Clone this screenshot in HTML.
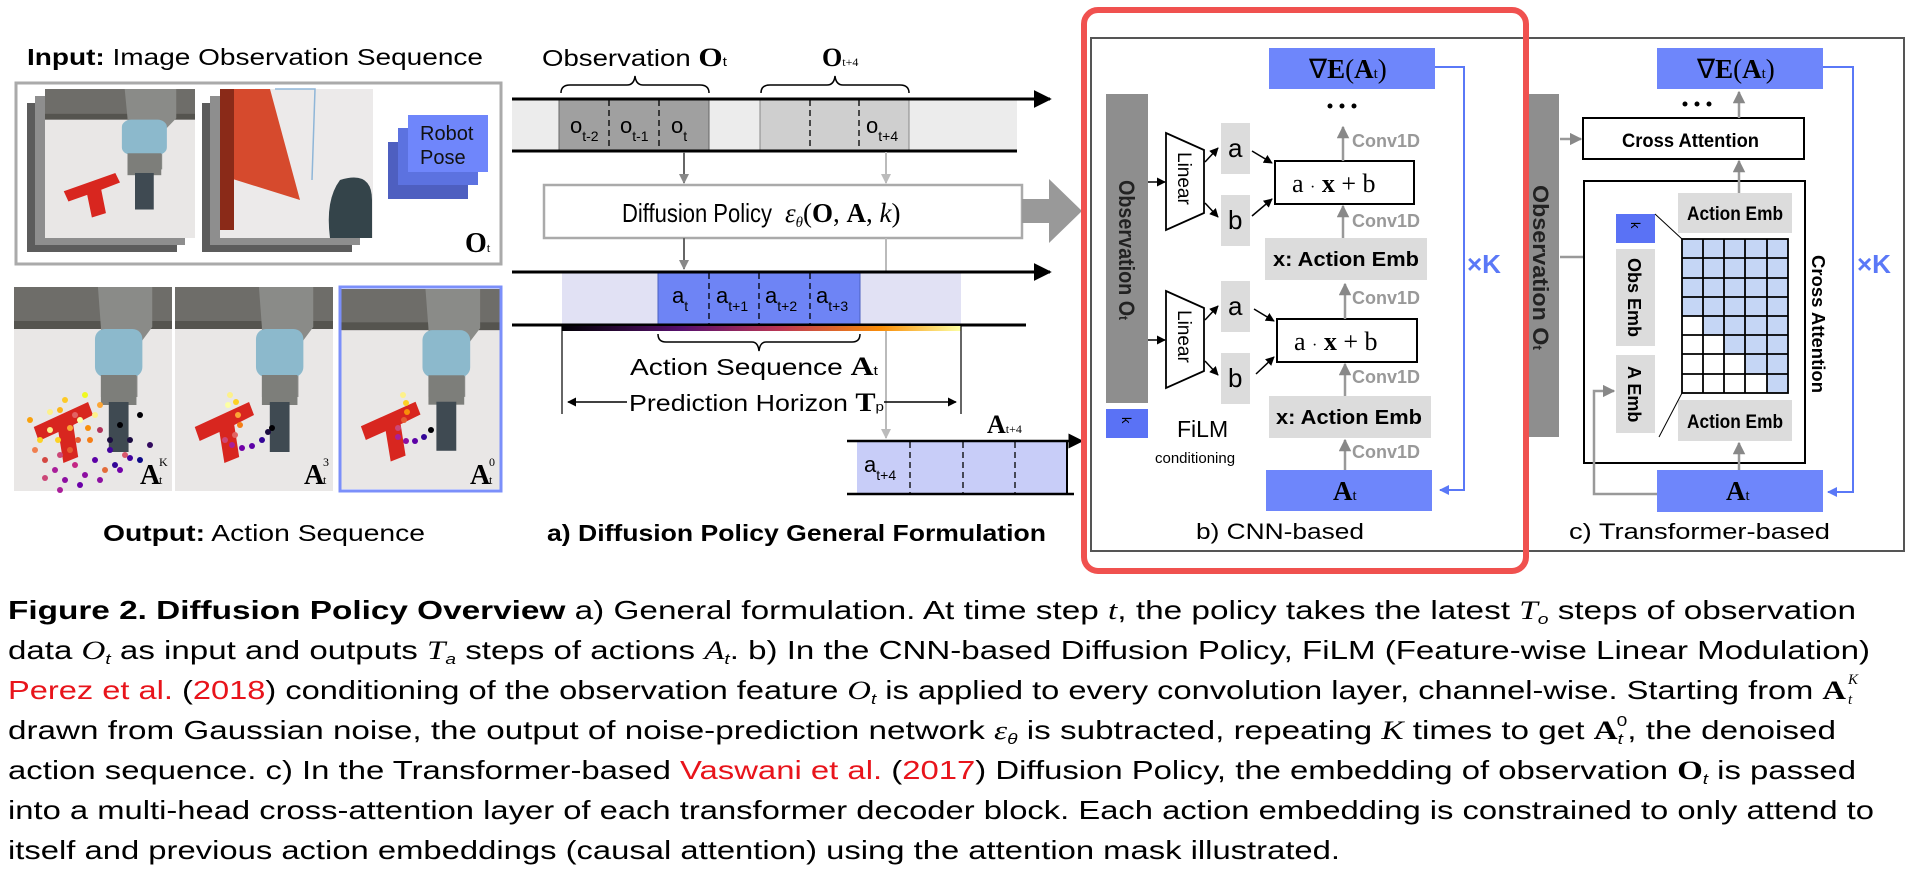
<!DOCTYPE html>
<html><head><meta charset="utf-8"><style>
html,body{margin:0;padding:0;background:#fff;width:1932px;height:880px;overflow:hidden}
svg{display:block}
text{font-family:"Liberation Sans",sans-serif}
.serif{font-family:"Liberation Serif",serif}
</style></head><body>
<svg width="1932" height="880" viewBox="0 0 1932 880" xmlns="http://www.w3.org/2000/svg">
<defs>
<symbol id="photo" viewBox="0 0 160 204" preserveAspectRatio="none">
  <rect width="160" height="204" fill="#e9e7e6"/>
  <rect width="160" height="40" fill="#6e6d69"/>
  <rect y="34" width="160" height="8" fill="#55544f"/>
  <path d="M85 0 L140 0 L140 40 L125 60 L125 110 L88 110 L88 40 Z" fill="#8a8b88"/>
  <rect x="82" y="42" width="48" height="48" rx="10" fill="#8cb9cc"/>
  <rect x="88" y="88" width="36" height="30" fill="#7d7e7a"/>
  <rect x="96" y="115" width="20" height="50" fill="#3f4a52"/>
</symbol>
<symbol id="photoT" viewBox="0 0 160 204" preserveAspectRatio="none">
  <use href="#photo" width="160" height="204"/>
  <path d="M20 140 L75 115 L80 128 L60 138 L65 170 L50 176 L45 145 L25 154 Z" fill="#d8261f"/>
</symbol>
<linearGradient id="grad" x1="0" x2="1" y1="0" y2="0">
  <stop offset="0" stop-color="#000004"/><stop offset="0.3" stop-color="#57106e"/>
  <stop offset="0.55" stop-color="#bc3754"/><stop offset="0.8" stop-color="#f98e09"/>
  <stop offset="1" stop-color="#fcffa4"/>
</linearGradient>
<marker id="ah" viewBox="0 0 10 10" refX="9" refY="5" markerWidth="6" markerHeight="6" orient="auto"><path d="M0 0 L10 5 L0 10 Z" fill="#000"/></marker>
<marker id="ahg" viewBox="0 0 10 10" refX="9" refY="5" markerWidth="5" markerHeight="5" orient="auto"><path d="M0 0 L10 5 L0 10 Z" fill="#888"/></marker>
<marker id="ahl" viewBox="0 0 10 10" refX="9" refY="5" markerWidth="5" markerHeight="5" orient="auto"><path d="M0 0 L10 5 L0 10 Z" fill="#bbb"/></marker>
<marker id="ahb" viewBox="0 0 10 10" refX="9" refY="5" markerWidth="5" markerHeight="5" orient="auto"><path d="M0 0 L10 5 L0 10 Z" fill="#5a78f7"/></marker>
</defs>

<!-- ===== Left: input ===== -->
<text x="27" y="65" font-size="23" textLength="456" lengthAdjust="spacingAndGlyphs"><tspan font-weight="bold">Input:</tspan> Image Observation Sequence</text>
<rect x="16" y="83" width="485" height="181" fill="#fff" stroke="#aaa" stroke-width="3"/>
<rect x="27" y="103" width="150" height="149" fill="#5c5c5c"/>
<rect x="35" y="96" width="150" height="149" fill="#8e8e8e"/>
<use href="#photoT" x="45" y="89" width="150" height="149"/>
<rect x="202" y="103" width="150" height="149" fill="#5c5c5c"/>
<rect x="210" y="96" width="150" height="149" fill="#8e8e8e"/>
<rect x="220" y="89" width="153" height="149" fill="#eceaea"/>
<path d="M220 89 L270 89 L300 200 L220 175 Z" fill="#d64a2d"/>
<path d="M220 89 L234 89 L234 230 L220 230 Z" fill="#8a2a18"/>
<path d="M340 180 Q372 170 372 200 L372 238 L330 238 Q325 200 340 180 Z" fill="#34444a"/>
<path d="M275 89 L315 89 L312 180" fill="none" stroke="#8fb6d8" stroke-width="1.5"/>
<rect x="388" y="142" width="80" height="57" fill="#4e5fc0"/>
<rect x="398" y="128" width="80" height="57" fill="#5c72e0"/>
<rect x="408" y="115" width="80" height="57" fill="#6f86fb"/>
<text x="420" y="140" font-size="20" fill="#111">Robot</text>
<text x="420" y="164" font-size="20" fill="#111">Pose</text>
<text x="465" y="252" font-size="28" font-weight="bold" class="serif">O<tspan font-size="13" font-weight="normal">t</tspan></text>

<!-- bottom images -->
<use href="#photoT" x="14" y="287" width="158" height="204"/>
<use href="#photoT" x="175" y="287" width="158" height="204"/>
<use href="#photoT" x="341" y="289" width="159" height="200"/>
<rect x="340" y="287" width="161" height="204" fill="none" stroke="#7b8ffa" stroke-width="3"/>
<g>
<circle cx="30" cy="420" r="3" fill="#f9a20c"/><circle cx="40" cy="440" r="3" fill="#fcd225"/><circle cx="50" cy="430" r="3" fill="#fdf18a"/><circle cx="60" cy="410" r="3" fill="#fbb61a"/><circle cx="70" cy="450" r="3" fill="#e55c30"/><circle cx="80" cy="420" r="3" fill="#fcffa4"/><circle cx="90" cy="440" r="3" fill="#f57d15"/><circle cx="100" cy="430" r="3" fill="#b1325a"/><circle cx="110" cy="450" r="3" fill="#42039d"/><circle cx="120" cy="425" r="3" fill="#000004"/><circle cx="130" cy="440" r="3" fill="#1b0c41"/><circle cx="140" cy="415" r="3" fill="#000004"/><circle cx="150" cy="445" r="3" fill="#320a5e"/><circle cx="45" cy="460" r="3" fill="#d44842"/><circle cx="55" cy="470" r="3" fill="#a91e9a"/><circle cx="65" cy="480" r="3" fill="#8d0fa1"/><circle cx="75" cy="465" r="3" fill="#c42785"/><circle cx="85" cy="475" r="3" fill="#8d0fa1"/><circle cx="95" cy="460" r="3" fill="#5c01a6"/><circle cx="105" cy="470" r="3" fill="#e36c3a"/><circle cx="115" cy="465" r="3" fill="#330597"/><circle cx="125" cy="455" r="3" fill="#d8576b"/><circle cx="65" cy="400" r="3" fill="#fdca26"/><circle cx="85" cy="395" r="3" fill="#f0f921"/><circle cx="100" cy="405" r="3" fill="#fca636"/><circle cx="75" cy="415" r="3" fill="#e16462"/><circle cx="95" cy="415" r="3" fill="#fdf18a"/><circle cx="35" cy="450" r="3" fill="#f07f4f"/><circle cx="120" cy="470" r="3" fill="#7201a8"/><circle cx="60" cy="455" r="3" fill="#cc4778"/><circle cx="140" cy="460" r="3" fill="#0d0887"/><circle cx="80" cy="485" r="3" fill="#6a00a8"/>
<circle cx="50" cy="412" r="3" fill="#fdf18a"/><circle cx="70" cy="428" r="3" fill="#fca636"/><circle cx="88" cy="428" r="3" fill="#f98e09"/><circle cx="58" cy="440" r="3" fill="#fcd225"/><circle cx="78" cy="440" r="3" fill="#e55c30"/><circle cx="110" cy="440" r="3" fill="#1b0c41"/><circle cx="130" cy="458" r="3" fill="#42039d"/><circle cx="100" cy="480" r="3" fill="#8d0fa1"/><circle cx="60" cy="490" r="3" fill="#a91e9a"/><circle cx="45" cy="478" r="3" fill="#cc4778"/>
<circle cx="230" cy="395" r="3" fill="#fdf18a"/><circle cx="236" cy="402" r="3" fill="#fcd225"/><circle cx="238" cy="415" r="3" fill="#fca636"/><circle cx="240" cy="425" r="3" fill="#f57d15"/><circle cx="235" cy="435" r="3" fill="#e16462"/><circle cx="225" cy="440" r="3" fill="#cc4778"/><circle cx="232" cy="445" r="3" fill="#a91e9a"/><circle cx="242" cy="448" r="3" fill="#7201a8"/><circle cx="252" cy="446" r="3" fill="#5c01a6"/><circle cx="262" cy="440" r="3" fill="#330597"/><circle cx="268" cy="432" r="3" fill="#1b0c41"/><circle cx="272" cy="428" r="3" fill="#000004"/><circle cx="228" cy="405" r="3" fill="#fcffa4"/>
<circle cx="403" cy="395" r="3" fill="#fdf18a"/><circle cx="406" cy="403" r="3" fill="#fcd225"/><circle cx="407" cy="412" r="3" fill="#f98e09"/><circle cx="404" cy="420" r="3" fill="#e55c30"/><circle cx="398" cy="428" r="3" fill="#cc4778"/><circle cx="398" cy="437" r="3" fill="#a91e9a"/><circle cx="406" cy="441" r="3" fill="#8d0fa1"/><circle cx="415" cy="441" r="3" fill="#5c01a6"/><circle cx="424" cy="437" r="3" fill="#330597"/><circle cx="431" cy="430" r="3" fill="#000004"/>
</g>
<text x="140" y="484" font-size="28" font-weight="bold" class="serif">A</text><text x="159" y="484" font-size="12" class="serif">t</text><text x="159" y="466" font-size="12" class="serif">K</text>
<text x="304" y="484" font-size="28" font-weight="bold" class="serif">A</text><text x="323" y="484" font-size="12" class="serif">t</text><text x="323" y="466" font-size="12" class="serif">3</text>
<text x="470" y="484" font-size="28" font-weight="bold" class="serif">A</text><text x="489" y="484" font-size="12" class="serif">t</text><text x="489" y="466" font-size="12" class="serif">0</text>
<text x="103" y="541" font-size="23" textLength="322" lengthAdjust="spacingAndGlyphs"><tspan font-weight="bold">Output:</tspan>  Action Sequence</text>

<!-- ===== a) general formulation ===== -->
<text x="542" y="66" font-size="23" textLength="185" lengthAdjust="spacingAndGlyphs">Observation <tspan class="serif" font-weight="bold" font-size="26">O</tspan><tspan font-size="13">t</tspan></text>
<text x="822" y="66" font-size="26" font-weight="bold" class="serif">O<tspan font-size="12" font-weight="normal">t+4</tspan></text>
<path d="M561 93 Q561 85 570 85 L627 85 Q634 85 635 76 Q636 85 643 85 L700 85 Q709 85 709 93" fill="none" stroke="#000" stroke-width="1.5"/>
<path d="M761 93 Q761 85 770 85 L827 85 Q834 85 835 76 Q836 85 843 85 L900 85 Q909 85 909 93" fill="none" stroke="#000" stroke-width="1.5"/>
<rect x="512" y="99" width="505" height="52" fill="#ececec"/>
<rect x="559" y="99" width="150" height="52" fill="#a0a0a0" stroke="#666" stroke-width="1"/>
<rect x="760" y="99" width="149" height="52" fill="#cfcfcf" stroke="#888" stroke-width="1"/>
<g stroke="#000" stroke-dasharray="6,4" stroke-width="1.3"><line x1="609" y1="100" x2="609" y2="150"/><line x1="659" y1="100" x2="659" y2="150"/><line x1="810" y1="100" x2="810" y2="150"/><line x1="859" y1="100" x2="859" y2="150"/></g>
<line x1="512" y1="99" x2="1050" y2="99" stroke="#000" stroke-width="3" marker-end="url(#ah)"/>
<line x1="512" y1="151" x2="1017" y2="151" stroke="#000" stroke-width="3"/>
<g font-size="22"><text x="570" y="133">o<tspan font-size="14" dy="8">t-2</tspan></text><text x="620" y="133">o<tspan font-size="14" dy="8">t-1</tspan></text><text x="671" y="133">o<tspan font-size="14" dy="8">t</tspan></text><text x="866" y="133">o<tspan font-size="14" dy="8">t+4</tspan></text></g>
<line x1="684" y1="152" x2="684" y2="183" stroke="#666" stroke-width="2" marker-end="url(#ahg)"/>
<line x1="886" y1="152" x2="886" y2="183" stroke="#bbb" stroke-width="2" marker-end="url(#ahl)"/>
<rect x="544" y="185" width="478" height="53" fill="#fff" stroke="#aaa" stroke-width="2.5"/>
<text x="622" y="222" font-size="26" textLength="150" lengthAdjust="spacingAndGlyphs">Diffusion Policy</text>
<text x="785" y="222" font-size="27" class="serif"><tspan font-style="italic">ε<tspan font-size="15" dy="5">θ</tspan></tspan><tspan dy="-5">(</tspan><tspan font-weight="bold">O</tspan>, <tspan font-weight="bold">A</tspan>, <tspan font-style="italic">k</tspan>)</text>
<path d="M1022 199 L1049 199 L1049 179 L1082 211 L1049 243 L1049 223 L1022 223 Z" fill="#999"/>
<line x1="684" y1="238" x2="684" y2="269" stroke="#666" stroke-width="2" marker-end="url(#ahg)"/>
<line x1="886" y1="238" x2="886" y2="438" stroke="#bbb" stroke-width="2" marker-end="url(#ahl)"/>
<rect x="562" y="272" width="399" height="53" fill="#e1e1f4"/>
<rect x="658" y="272" width="202" height="53" fill="#6e84f5" stroke="#4a5fc0" stroke-width="1"/>
<g stroke="#000" stroke-dasharray="6,4" stroke-width="1.3"><line x1="709" y1="273" x2="709" y2="324"/><line x1="759" y1="273" x2="759" y2="324"/><line x1="810" y1="273" x2="810" y2="324"/></g>
<g font-size="22"><text x="672" y="303">a<tspan font-size="14" dy="8">t</tspan></text><text x="716" y="303">a<tspan font-size="14" dy="8">t+1</tspan></text><text x="765" y="303">a<tspan font-size="14" dy="8">t+2</tspan></text><text x="816" y="303">a<tspan font-size="14" dy="8">t+3</tspan></text></g>
<line x1="512" y1="272" x2="1050" y2="272" stroke="#000" stroke-width="3" marker-end="url(#ah)"/>
<line x1="512" y1="325" x2="1026" y2="325" stroke="#000" stroke-width="3"/>
<rect x="562" y="326" width="399" height="5" fill="url(#grad)"/>
<line x1="562" y1="325" x2="562" y2="414" stroke="#000" stroke-width="1.2"/>
<line x1="961" y1="325" x2="961" y2="414" stroke="#000" stroke-width="1.2"/>
<path d="M658 334 Q658 342 666 342 L752 342 Q758 342 759 351 Q760 342 766 342 L852 342 Q860 342 860 334" fill="none" stroke="#000" stroke-width="1.5"/>
<text x="630" y="375" font-size="23" textLength="248" lengthAdjust="spacingAndGlyphs">Action Sequence <tspan class="serif" font-weight="bold" font-size="26">A</tspan><tspan font-size="13">t</tspan></text>
<line x1="627" y1="402" x2="568" y2="402" stroke="#000" stroke-width="1.5" marker-end="url(#ah)"/>
<line x1="884" y1="402" x2="956" y2="402" stroke="#000" stroke-width="1.5" marker-end="url(#ah)"/>
<text x="629" y="411" font-size="23" textLength="255" lengthAdjust="spacingAndGlyphs">Prediction Horizon <tspan class="serif" font-weight="bold" font-size="26">T</tspan><tspan font-size="13">p</tspan></text>
<text x="987" y="433" font-size="26" font-weight="bold" class="serif">A<tspan font-size="12" font-weight="normal">t+4</tspan></text>
<rect x="857" y="441" width="210" height="53" fill="#c8cdf8"/>
<line x1="1067" y1="441" x2="1067" y2="494" stroke="#000" stroke-width="2"/>
<g stroke="#000" stroke-dasharray="6,4" stroke-width="1.3"><line x1="910" y1="442" x2="910" y2="493"/><line x1="963" y1="442" x2="963" y2="493"/><line x1="1015" y1="442" x2="1015" y2="493"/></g>
<text x="864" y="472" font-size="22">a<tspan font-size="14" dy="8">t+4</tspan></text>
<line x1="847" y1="441" x2="1082" y2="441" stroke="#000" stroke-width="2.5" marker-end="url(#ah)"/>
<line x1="847" y1="494" x2="1074" y2="494" stroke="#000" stroke-width="2.5"/>
<text x="547" y="541" font-size="23" font-weight="bold" textLength="499" lengthAdjust="spacingAndGlyphs">a) Diffusion Policy General Formulation</text>

<!-- ===== b / c panel ===== -->
<rect x="1091" y="38" width="813" height="513" fill="#fff" stroke="#555" stroke-width="2"/>

<!-- b) CNN -->
<rect x="1106" y="94" width="42" height="309" fill="#8e8e8e"/>
<text transform="translate(1119,180) rotate(90)" font-size="22" font-weight="bold" fill="#222" textLength="140" lengthAdjust="spacingAndGlyphs">Observation O<tspan font-size="13">t</tspan></text>
<rect x="1106" y="409" width="42" height="29" fill="#5a72f5"/>
<text transform="translate(1122,417) rotate(90)" font-size="13">k</text>
<g fill="#fff" stroke="#000" stroke-width="1.8">
<path d="M1166 133 L1204 150 L1204 213 L1166 230 Z"/>
<path d="M1166 291 L1204 308 L1204 371 L1166 388 Z"/>
</g>
<text transform="translate(1178,152) rotate(90)" font-size="19">Linear</text>
<text transform="translate(1178,310) rotate(90)" font-size="19">Linear</text>
<g stroke="#000" stroke-width="1.5">
<line x1="1148" y1="182" x2="1165" y2="182" marker-end="url(#ah)"/>
<line x1="1148" y1="340" x2="1165" y2="340" marker-end="url(#ah)"/>
<line x1="1205" y1="162" x2="1218" y2="148" marker-end="url(#ah)"/>
<line x1="1205" y1="203" x2="1218" y2="217" marker-end="url(#ah)"/>
<line x1="1205" y1="320" x2="1218" y2="306" marker-end="url(#ah)"/>
<line x1="1205" y1="361" x2="1218" y2="375" marker-end="url(#ah)"/>
<line x1="1252" y1="151" x2="1272" y2="163" marker-end="url(#ah)"/>
<line x1="1252" y1="216" x2="1272" y2="199" marker-end="url(#ah)"/>
<line x1="1254" y1="309" x2="1274" y2="321" marker-end="url(#ah)"/>
<line x1="1256" y1="374" x2="1274" y2="357" marker-end="url(#ah)"/>
</g>
<g fill="#dcdcdc"><rect x="1221" y="123" width="29" height="51"/><rect x="1221" y="195" width="29" height="51"/><rect x="1221" y="281" width="29" height="51"/><rect x="1221" y="353" width="29" height="51"/></g>
<g font-size="26" class="serif"><text x="1228" y="157">a</text><text x="1228" y="229">b</text><text x="1228" y="315">a</text><text x="1228" y="387">b</text></g>
<rect x="1275" y="161" width="139" height="43" fill="#fff" stroke="#000" stroke-width="2"/>
<rect x="1277" y="319" width="140" height="43" fill="#fff" stroke="#000" stroke-width="2"/>
<text x="1292" y="192" font-size="26" class="serif">a <tspan font-size="16">·</tspan> <tspan font-weight="bold">x</tspan> + b</text>
<text x="1294" y="350" font-size="26" class="serif">a <tspan font-size="16">·</tspan> <tspan font-weight="bold">x</tspan> + b</text>
<g fill="#dcdcdc"><rect x="1265" y="238" width="162" height="42"/><rect x="1269" y="396" width="162" height="42"/></g>
<text x="1273" y="266" font-size="20" font-weight="bold" textLength="146" lengthAdjust="spacingAndGlyphs">x: Action Emb</text>
<text x="1276" y="424" font-size="20" font-weight="bold" textLength="146" lengthAdjust="spacingAndGlyphs">x: Action Emb</text>
<g stroke="#999" stroke-width="2.5">
<line x1="1343" y1="161" x2="1343" y2="127" marker-end="url(#ahg)"/>
<line x1="1343" y1="238" x2="1343" y2="206" marker-end="url(#ahg)"/>
<line x1="1345" y1="319" x2="1345" y2="284" marker-end="url(#ahg)"/>
<line x1="1345" y1="396" x2="1345" y2="364" marker-end="url(#ahg)"/>
<line x1="1345" y1="470" x2="1345" y2="440" marker-end="url(#ahg)"/>
</g>
<g font-size="18" fill="#999" font-weight="bold"><text x="1352" y="147">Conv1D</text><text x="1352" y="227">Conv1D</text><text x="1352" y="304">Conv1D</text><text x="1352" y="383">Conv1D</text><text x="1352" y="458">Conv1D</text></g>
<g fill="#000"><circle cx="1330" cy="106" r="2.5"/><circle cx="1342" cy="106" r="2.5"/><circle cx="1354" cy="106" r="2.5"/></g>
<rect x="1269" y="48" width="166" height="41" fill="#6e86fb"/>
<text x="1309" y="78" font-size="27" class="serif">∇<tspan font-weight="bold">E</tspan>(<tspan font-weight="bold">A</tspan><tspan font-size="15">t</tspan>)</text>
<rect x="1266" y="470" width="166" height="41" fill="#6e86fb"/>
<text x="1333" y="500" font-size="27" font-weight="bold" class="serif">A<tspan font-size="15" font-weight="normal">t</tspan></text>
<path d="M1435 67 L1464 67 L1464 490 L1440 490" fill="none" stroke="#5a78f7" stroke-width="2" marker-end="url(#ahb)"/>
<text x="1467" y="273" font-size="26" font-weight="bold" fill="#5a78f7">×K</text>
<text x="1177" y="437" font-size="23">FiLM</text>
<text x="1155" y="463" font-size="15">conditioning</text>
<text x="1196" y="539" font-size="22" textLength="168" lengthAdjust="spacingAndGlyphs">b) CNN-based</text>

<!-- c) Transformer -->
<rect x="1525" y="94" width="34" height="343" fill="#8e8e8e"/>
<text transform="translate(1533,185) rotate(90)" font-size="22" font-weight="bold" fill="#222" textLength="165" lengthAdjust="spacingAndGlyphs">Observation O<tspan font-size="13">t</tspan></text>
<line x1="1560" y1="139" x2="1581" y2="139" stroke="#999" stroke-width="2.5" marker-end="url(#ahg)"/>
<line x1="1560" y1="257" x2="1614" y2="257" stroke="#999" stroke-width="2.5" marker-end="url(#ahg)"/>
<rect x="1583" y="118" width="221" height="41" fill="#fff" stroke="#000" stroke-width="2"/>
<text x="1622" y="147" font-size="19" font-weight="bold" textLength="137" lengthAdjust="spacingAndGlyphs">Cross Attention</text>
<rect x="1584" y="181" width="221" height="282" fill="#fff" stroke="#000" stroke-width="2"/>
<rect x="1678" y="193" width="114" height="40" fill="#dcdcdc"/>
<text x="1687" y="220" font-size="19" font-weight="bold" textLength="96" lengthAdjust="spacingAndGlyphs">Action Emb</text>
<rect x="1678" y="400" width="114" height="41" fill="#dcdcdc"/>
<text x="1687" y="428" font-size="19" font-weight="bold" textLength="96" lengthAdjust="spacingAndGlyphs">Action Emb</text>
<rect x="1616" y="214" width="39" height="29" fill="#5a72f5"/>
<text transform="translate(1631,222) rotate(90)" font-size="13">k</text>
<rect x="1616" y="249" width="39" height="97" fill="#dcdcdc"/>
<text transform="translate(1628,258) rotate(90)" font-size="18" font-weight="bold">Obs Emb</text>
<rect x="1616" y="355" width="39" height="78" fill="#dcdcdc"/>
<text transform="translate(1628,366) rotate(90)" font-size="18" font-weight="bold">A Emb</text>
<path d="M1657 494 L1594 494 L1594 391 L1614 391" fill="none" stroke="#999" stroke-width="2.5" marker-end="url(#ahg)"/>
<line x1="1655" y1="214" x2="1682" y2="239" stroke="#000" stroke-width="1"/>
<line x1="1682" y1="393" x2="1659" y2="437" stroke="#000" stroke-width="1"/>
<g fill="#c5d6f5">
<rect x="1682" y="239" width="106" height="77"/>
<rect x="1703" y="316" width="85" height="19"/>
<rect x="1724" y="335" width="64" height="19"/>
<rect x="1745" y="354" width="43" height="20"/>
<rect x="1767" y="374" width="21" height="19"/>
</g>
<g stroke="#000" stroke-width="1.8" fill="none">
<rect x="1682" y="239" width="106" height="154"/>
<line x1="1703" y1="239" x2="1703" y2="393"/><line x1="1724" y1="239" x2="1724" y2="393"/><line x1="1745" y1="239" x2="1745" y2="393"/><line x1="1767" y1="239" x2="1767" y2="393"/>
<line x1="1682" y1="258" x2="1788" y2="258"/><line x1="1682" y1="278" x2="1788" y2="278"/><line x1="1682" y1="297" x2="1788" y2="297"/><line x1="1682" y1="316" x2="1788" y2="316"/><line x1="1682" y1="335" x2="1788" y2="335"/><line x1="1682" y1="354" x2="1788" y2="354"/><line x1="1682" y1="374" x2="1788" y2="374"/>
</g>
<text transform="translate(1812,255) rotate(90)" font-size="18" font-weight="bold" textLength="138" lengthAdjust="spacingAndGlyphs">Cross Attention</text>
<g stroke="#999" stroke-width="2.5">
<line x1="1739" y1="470" x2="1739" y2="443" marker-end="url(#ahg)"/>
<line x1="1739" y1="193" x2="1739" y2="161" marker-end="url(#ahg)"/>
<line x1="1739" y1="118" x2="1739" y2="92" marker-end="url(#ahg)"/>
</g>
<g fill="#000"><circle cx="1685" cy="104" r="2.5"/><circle cx="1697" cy="104" r="2.5"/><circle cx="1709" cy="104" r="2.5"/></g>
<rect x="1657" y="48" width="166" height="41" fill="#6e86fb"/>
<text x="1697" y="78" font-size="27" class="serif">∇<tspan font-weight="bold">E</tspan>(<tspan font-weight="bold">A</tspan><tspan font-size="15">t</tspan>)</text>
<rect x="1657" y="470" width="166" height="42" fill="#6e86fb"/>
<text x="1726" y="500" font-size="27" font-weight="bold" class="serif">A<tspan font-size="15" font-weight="normal">t</tspan></text>
<path d="M1823 67 L1853 67 L1853 492 L1828 492" fill="none" stroke="#5a78f7" stroke-width="2" marker-end="url(#ahb)"/>
<text x="1857" y="273" font-size="26" font-weight="bold" fill="#5a78f7">×K</text>
<text x="1569" y="539" font-size="22" textLength="261" lengthAdjust="spacingAndGlyphs">c) Transformer-based</text>

<!-- red highlight -->
<rect x="1084" y="10" width="442" height="561" rx="14" fill="none" stroke="#f0514f" stroke-width="6"/>

<!-- ===== caption ===== -->
<g font-size="26">
<text x="8" y="619" textLength="1848" lengthAdjust="spacingAndGlyphs"><tspan font-weight="bold">Figure 2.  Diffusion Policy Overview</tspan>  a) General formulation. At time step <tspan font-style="italic" class="serif">t</tspan>, the policy takes the latest <tspan font-style="italic" class="serif">T</tspan><tspan font-size="15" dy="5" font-style="italic">o</tspan><tspan dy="-5"> steps of observation</tspan></text>
<text x="8" y="659" textLength="1862" lengthAdjust="spacingAndGlyphs">data <tspan font-style="italic" class="serif">O</tspan><tspan font-size="15" dy="5" font-style="italic">t</tspan><tspan dy="-5"> as input and outputs </tspan><tspan font-style="italic" class="serif">T</tspan><tspan font-size="15" dy="5" font-style="italic">a</tspan><tspan dy="-5"> steps of actions </tspan><tspan font-style="italic" class="serif">A</tspan><tspan font-size="15" dy="5" font-style="italic">t</tspan><tspan dy="-5">. b) In the CNN-based Diffusion Policy, FiLM (Feature-wise Linear Modulation)</tspan></text>
<text x="8" y="699" textLength="1838" lengthAdjust="spacingAndGlyphs"><tspan fill="#e8141b">Perez et al.</tspan> (<tspan fill="#e8141b">2018</tspan>) conditioning of the observation feature <tspan font-style="italic" class="serif">O</tspan><tspan font-size="15" dy="5" font-style="italic">t</tspan><tspan dy="-5"> is applied to every convolution layer, channel-wise. Starting from </tspan><tspan font-weight="bold" class="serif">A</tspan></text>
<text x="1848" y="704" font-size="15" font-style="italic" class="serif">t</text><text x="1848" y="684" font-size="15" font-style="italic" class="serif">K</text>
<text x="8" y="739" textLength="1828" lengthAdjust="spacingAndGlyphs">drawn from Gaussian noise, the output of noise-prediction network <tspan font-style="italic" class="serif">ε</tspan><tspan font-size="15" dy="5" font-style="italic">θ</tspan><tspan dy="-5"> is subtracted, repeating </tspan><tspan font-style="italic" class="serif">K</tspan> times to get <tspan font-weight="bold" class="serif">A</tspan><tspan font-size="15" dy="5" font-style="italic">t</tspan><tspan font-size="15" dx="-5" dy="-18">0</tspan><tspan dy="13">, the denoised</tspan></text>
<text x="8" y="779" textLength="1848" lengthAdjust="spacingAndGlyphs">action sequence. c) In the Transformer-based <tspan fill="#e8141b">Vaswani et al.</tspan> (<tspan fill="#e8141b">2017</tspan>) Diffusion Policy, the embedding of observation <tspan font-weight="bold" class="serif">O</tspan><tspan font-size="15" dy="5" font-style="italic">t</tspan><tspan dy="-5"> is passed</tspan></text>
<text x="8" y="819" textLength="1866" lengthAdjust="spacingAndGlyphs">into a multi-head cross-attention layer of each transformer decoder block. Each action embedding is constrained to only attend to</text>
<text x="8" y="859" textLength="1332" lengthAdjust="spacingAndGlyphs">itself and previous action embeddings (causal attention) using the attention mask illustrated.</text>
</g>
</svg>
</body></html>
